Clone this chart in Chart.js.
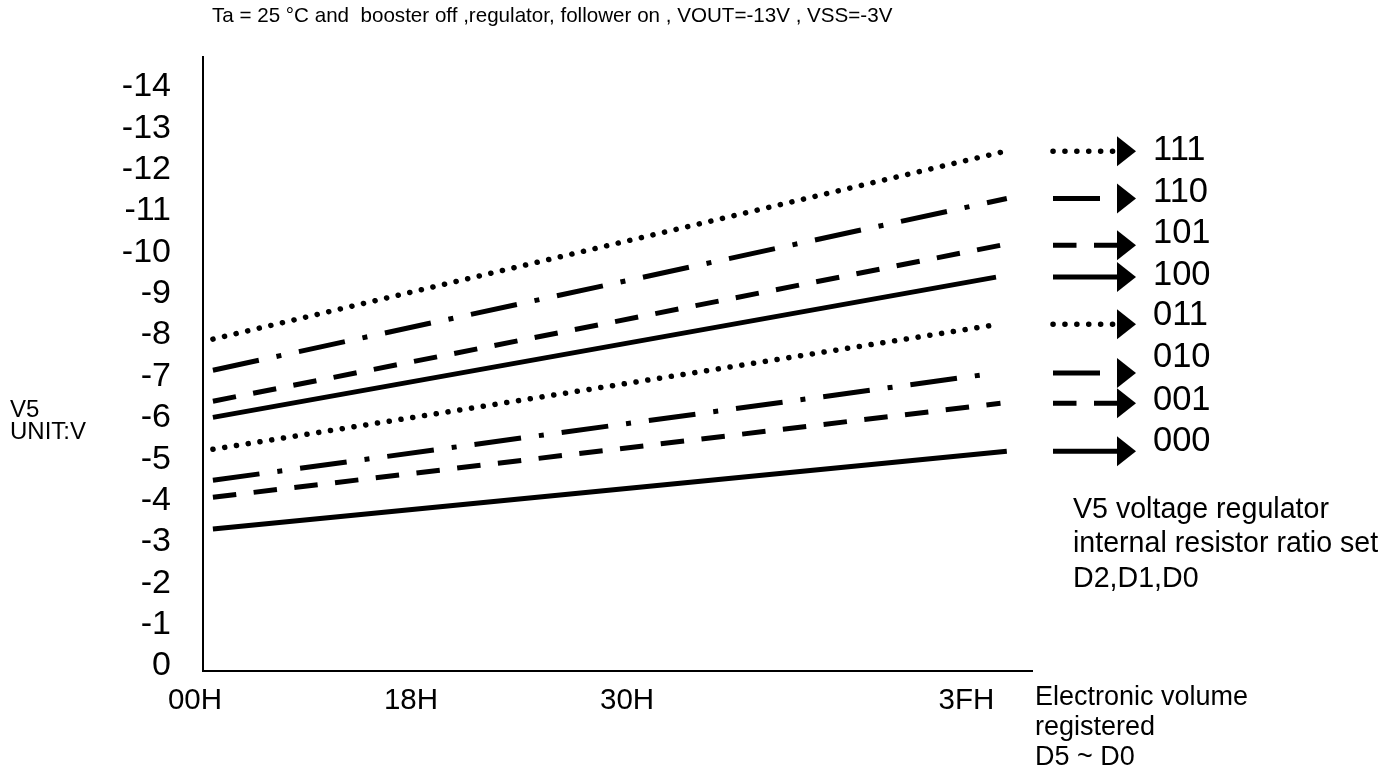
<!DOCTYPE html>
<html><head><meta charset="utf-8">
<script src="https://cdn.jsdelivr.net/npm/chart.js@4.4.0/dist/chart.umd.min.js"></script>
<style>html,body{margin:0;padding:0;background:#fff;overflow:hidden}canvas{display:block}</style>
</head><body>
<canvas id="c" width="1398" height="779"></canvas>
<script>
// ---- data ----
const seriesCodes  = ['111','110','101','100','011','010','001','000'];
const seriesStyles = ['dot','dashdot','dash','solid','dot','dashdot','dash','solid'];
const startV5 = [-7.90,-7.15,-6.40,-6.01,-5.24,-4.49,-4.08,-3.31];
const endV5   = [-12.44,-11.30,-10.17,-9.40,-8.26,-7.08,-6.35,-5.19];
const startReg = [1.1,1.1,1.1,1.1,1.1,1.1,1.1,1.1];
const endReg   = [89.1,89.3,88.6,88.1,88.4,88.0,88.6,89.3];
const xTickValues = [0,24,48,85.7];
const xTickLabels = ['00H','18H','30H','3FH'];
const yTickValues = [-14,-13,-12,-11,-10,-9,-8,-7,-6,-5,-4,-3,-2,-1,0];
const yTickLabels = ['-14','-13','-12','-11','-10','-9','-8','-7','-6','-5','-4','-3','-2','-1','0'];
const legendLabelV5 = [-12.45,-11.45,-10.45,-9.45,-8.48,-7.45,-6.43,-5.42];
const titleText = 'Ta = 25 \u00B0C and  booster off ,regulator, follower on , VOUT=-13V , VSS=-3V';
const yAxisNote = ['V5','UNIT:V'];
const xAxisNote = ['Electronic volume','registered','D5 ~ D0'];
const legendNote = ['V5 voltage regulator','internal resistor ratio set','D2,D1,D0'];

const FONT = '"Liberation Sans", Arial, sans-serif';
const dashFor = {
  dot: [0.1, 11.8],
  dash: [23.5, 17.5],
  dashdot: [47, 18, 5, 18],
  solid: []
};

const datasets = seriesCodes.map((code, i) => ({
  label: code,
  data: [{x: startReg[i], y: startV5[i]}, {x: endReg[i], y: endV5[i]}],
  borderColor: '#000',
  borderWidth: seriesStyles[i] === 'dot' ? 5.5 : 5,
  borderDash: dashFor[seriesStyles[i]],
  borderCapStyle: seriesStyles[i] === 'dot' ? 'round' : 'butt',
  pointRadius: 0,
  tension: 0,
  fill: false
}));

const annotate = {
  id: 'annotate',
  afterDraw(chart) {
    const ctx = chart.ctx;
    const ys = chart.scales.y;
    ctx.save();
    ctx.fillStyle = '#000';
    ctx.textBaseline = 'middle';
    ctx.textAlign = 'left';
    // title
    ctx.font = '20.6px ' + FONT;
    ctx.fillText(titleText, 212, 16);
    // y axis note
    ctx.font = '24px ' + FONT;
    ctx.fillText(yAxisNote[0], 10, 410);
    ctx.fillText(yAxisNote[1], 10, 432);
    // x axis note
    ctx.font = '27px ' + FONT;
    xAxisNote.forEach((t, i) => ctx.fillText(t, 1035, 698 + i * 30));
    // legend note
    ctx.font = '28.6px ' + FONT;
    legendNote.forEach((t, i) => ctx.fillText(t, 1073, 510 + i * 34.5));
    // legend entries
    seriesCodes.forEach((code, i) => {
      const y = ys.getPixelForValue(endV5[i]);
      const st = seriesStyles[i];
      ctx.save();
      ctx.strokeStyle = '#000';
      ctx.lineWidth = st === 'dot' ? 5.5 : 5;
      ctx.lineCap = st === 'dot' ? 'round' : 'butt';
      ctx.setLineDash(dashFor[st]);
      ctx.beginPath();
      ctx.moveTo(1053, y);
      ctx.lineTo(1119, y);
      ctx.stroke();
      ctx.setLineDash([]);
      ctx.beginPath();
      ctx.moveTo(1117, y - 15);
      ctx.lineTo(1136, y);
      ctx.lineTo(1117, y + 15);
      ctx.closePath();
      ctx.fill();
      ctx.restore();
      ctx.font = '34.5px ' + FONT;
      ctx.fillText(code, 1153, ys.getPixelForValue(legendLabelV5[i]));
    });
    ctx.restore();
  }
};

new Chart(document.getElementById('c'), {
  type: 'line',
  data: { datasets },
  plugins: [annotate],
  options: {
    responsive: false,
    animation: false,
    devicePixelRatio: 1,
    layout: { padding: { top: 57, right: 366, bottom: 0, left: 0 } },
    plugins: { legend: { display: false }, tooltip: { enabled: false }, title: { display: false } },
    scales: {
      x: {
        type: 'linear',
        min: 0,
        max: 92.1,
        afterBuildTicks: s => { s.ticks = xTickValues.map(v => ({ value: v })); },
        afterFit: s => { s.height = 108; },
        grid: { display: false, drawTicks: false },
        border: { display: true, color: '#000', width: 2 },
        ticks: {
          autoSkip: false, maxRotation: 0, minRotation: 0,
          padding: 12, labelOffset: -8, color: '#000',
          font: { family: FONT, size: 29.5 },
          callback: (v, idx) => xTickLabels[idx]
        }
      },
      y: {
        type: 'linear',
        reverse: true,
        min: -14.72,
        max: 0.12,
        afterBuildTicks: s => { s.ticks = yTickValues.map(v => ({ value: v })); },
        afterFit: s => { s.width = 203; },
        grid: { display: false, drawTicks: false },
        border: { display: true, color: '#000', width: 2 },
        ticks: {
          padding: 32, color: '#000',
          font: { family: FONT, size: 34 },
          callback: (v, idx) => yTickLabels[idx]
        }
      }
    }
  }
});
</script>
</body></html>
